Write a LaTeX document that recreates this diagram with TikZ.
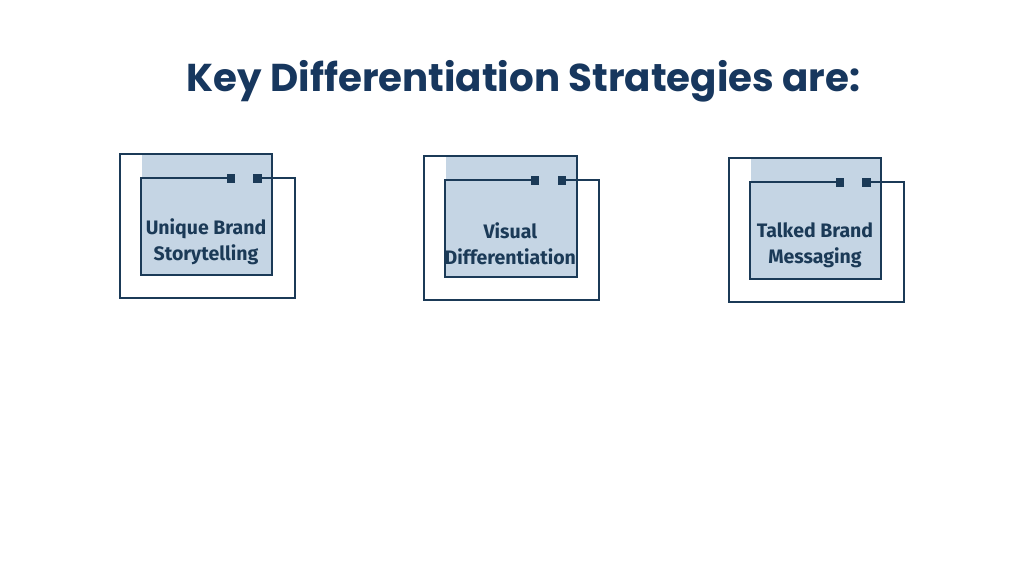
\documentclass[tikz,border=0pt]{standalone}
\usepackage{fontspec}
\newfontfamily\titlefont{Poppins}
\newfontfamily\boxfont{Fira Sans}
\definecolor{navy}{HTML}{17375E}
\definecolor{dark}{HTML}{1B3A57}
\definecolor{boxshade}{HTML}{C5D5E4}
\tikzset{
  frame/.style={draw=dark, line width=2.2pt},
  sq/.style={fill=dark, minimum size=8.5pt, inner sep=0pt},
  lbl/.style={font=\boxfont\bfseries\fontsize{19.5}{26}\selectfont, text=dark, align=center},
}
\newcommand\stratbox[3]{%
  \begin{scope}[shift={(#1)}]
    \fill[boxshade] (21.7,0) rectangle (152.3,121);
    \node[sq] (#2a) at (110.8,24) {};
    \node[sq] (#2b) at (137.5,24) {};
    \coordinate (#2tl) at (21,24);
    \draw[frame] (#2a.center) -- (#2tl) -- (21,121) -- (152.3,121) -- (152.3,0) -- (0,0) -- (0,144) -- (175,144) -- (175,24) -- (#2b.center);
    \node[lbl] (#2t) at (86,87) {#3};
  \end{scope}}
\begin{document}
\begin{tikzpicture}[x=1pt,y=-1pt]
  \useasboundingbox[fill=white] (0,0) rectangle (1024,576);
  \node[font=\titlefont\bfseries\fontsize{38.8}{42}\selectfont, text=navy] (title) at (523.5,81.5) {Key Differentiation Strategies are:};
  \stratbox{120,154.3}{s1}{Unique Brand\\Storytelling}
  \stratbox{424.3,156.3}{s2}{Visual\\Differentiation}
  \stratbox{729,158.3}{s3}{Talked Brand\\Messaging}
\end{tikzpicture}
\end{document}
